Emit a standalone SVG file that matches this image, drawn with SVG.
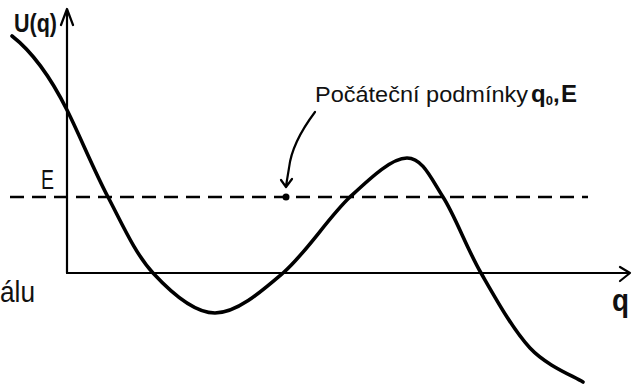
<svg xmlns="http://www.w3.org/2000/svg" width="632" height="384" viewBox="0 0 632 384">
<style>
.axis{fill:none;stroke:#000;stroke-width:2.2;stroke-linecap:round;stroke-linejoin:round}
.curve{fill:none;stroke:#000;stroke-width:3.6;stroke-linecap:round;stroke-linejoin:round}
.dash{fill:none;stroke:#000;stroke-width:2.4;stroke-dasharray:14 8}
.lbl{font-family:"Liberation Sans",Arial,sans-serif;fill:#111}
</style>
<rect width="632" height="384" fill="#fff"/>
<g id="axes">
<path class="axis" d="M67,273 L67,9 M61,25 L67,9 L73,25"/>
<path class="axis" d="M67,273 L630,273 M620,267 L630,273 L620,281"/>
</g>
<g id="energy-line">
<path class="dash" d="M10,197 L588,197"/>
</g>
<g id="potential-curve">
<path class="curve" d="M12,36 C30,50 50,76 67,110 C78.3,132.3 93.7,169.8 108,197 C122.3,224.2 135.2,253.7 153,273 C170.8,292.3 193.3,313 215,313 C236.7,313 260.5,292.3 283,273 C305.5,253.7 329.3,216.2 350,197 C370.7,177.8 391.5,158 407,158 C422.5,158 430.7,177.8 443,197 C455.3,216.2 466.5,247.8 481,273 C495.5,298.2 513,329.8 530,348 C547,366.2 574.2,376.3 583,382"/>
</g>
<g id="initial-point">
<circle cx="286" cy="197" r="3.5" fill="#000"/>
</g>
<g id="connectors">
<path class="axis" d="M315,112 C300,132 291,150 289,168 L286,186 M281,180 L286,187 L292,179"/>
</g>
<g id="labels">
<text class="lbl" x="14" y="32" font-size="25" font-weight="bold" textLength="43" lengthAdjust="spacingAndGlyphs">U(q)</text>
<text class="lbl" x="41" y="189" font-size="27" textLength="13" lengthAdjust="spacingAndGlyphs">E</text>
<text class="lbl" x="0" y="302" font-size="30" textLength="35" lengthAdjust="spacingAndGlyphs">álu</text>
<text class="lbl" x="612" y="311" font-size="32" font-weight="bold" textLength="17" lengthAdjust="spacingAndGlyphs">q</text>
<text class="lbl" x="315" y="102" font-size="22" textLength="213" lengthAdjust="spacingAndGlyphs">Počáteční podmínky</text>
<text class="lbl" x="531" y="102" font-size="24" font-weight="bold">q<tspan font-size="13" dy="3">0</tspan><tspan dy="-3">,</tspan><tspan x="561">E</tspan></text>
</g>
</svg>
